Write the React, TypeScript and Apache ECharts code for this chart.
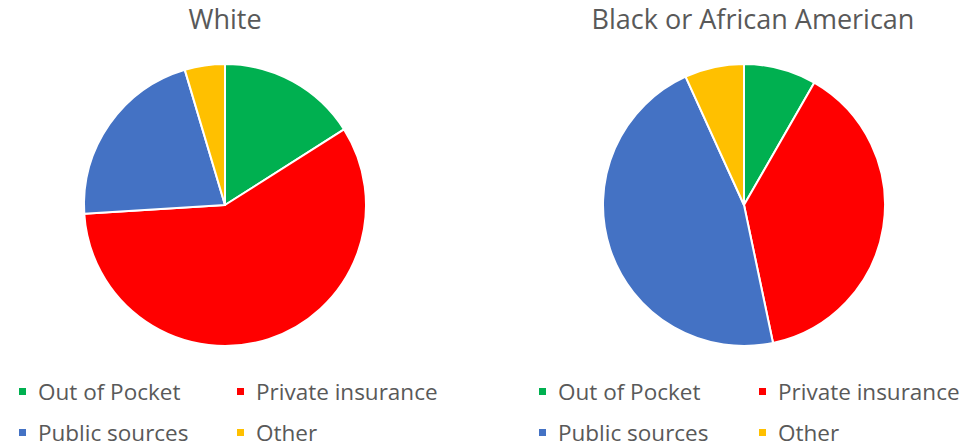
import React, { useEffect, useRef } from "react";
import * as echarts from "echarts";

const categories = ["Out of Pocket", "Private insurance", "Public sources", "Other"];
const whiteValues = [16, 58, 21.4, 4.6];
const blackValues = [8.3, 38.4, 46.5, 6.8];
const chartTitles = ["White", "Black or African American"];
const colors = ["#00B050", "#FF0000", "#4472C4", "#FFC000"];

const FONT = "'Open Sans', sans-serif";
const TXT = "#595959";

export default function App() {
  const ref = useRef<HTMLDivElement>(null);
  useEffect(() => {
    if (!ref.current) return;
    const chart = echarts.init(ref.current, null, { renderer: "svg" });
    const mkData = (vals: number[]) =>
      categories.map((c, i) => ({ name: c, value: vals[i], itemStyle: { color: colors[i] } }));
    const legendBase = {
      orient: "horizontal",
      icon: "rect",
      itemWidth: 9,
      itemHeight: 9,
      padding: 0,
      selectedMode: false,
      textStyle: { color: TXT, fontSize: 22.5, fontFamily: FONT, lineHeight: 22, padding: [0, 0, 0, 6] },
    };
    const rowTops = [380, 421];
    const colLefts = [17, 235, 537, 757];
    const legends: any[] = [];
    const layout = [
      { col: 0, row: 0, cat: 0 },
      { col: 1, row: 0, cat: 1 },
      { col: 0, row: 1, cat: 2 },
      { col: 1, row: 1, cat: 3 },
    ];
    [0, 2].forEach((offset) => {
      layout.forEach((l) => {
        legends.push({
          ...legendBase,
          left: colLefts[offset + l.col],
          top: rowTops[l.row],
          data: [categories[l.cat]],
        });
      });
    });
    chart.setOption({
      animation: false,
      color: colors,
      title: [
        {
          text: chartTitles[0],
          left: 225,
          top: 5,
          padding: 0,
          textAlign: "center",
          textStyle: { color: TXT, fontSize: 27, fontWeight: "normal", fontFamily: FONT },
        },
        {
          text: chartTitles[1],
          left: 753,
          top: 5,
          padding: 0,
          textAlign: "center",
          textStyle: { color: TXT, fontSize: 27, fontWeight: "normal", fontFamily: FONT },
        },
      ],
      legend: legends,
      series: [
        {
          type: "pie",
          name: chartTitles[0],
          center: [225, 205],
          radius: 141,
          startAngle: 90,
          clockwise: true,
          label: { show: false },
          labelLine: { show: false },
          emphasis: { disabled: true },
          itemStyle: { borderColor: "#ffffff", borderWidth: 2 },
          data: mkData(whiteValues),
        },
        {
          type: "pie",
          name: chartTitles[1],
          center: [744, 205],
          radius: 141,
          startAngle: 90,
          clockwise: true,
          label: { show: false },
          labelLine: { show: false },
          emphasis: { disabled: true },
          itemStyle: { borderColor: "#ffffff", borderWidth: 2 },
          data: mkData(blackValues),
        },
      ],
    });
    return () => chart.dispose();
  }, []);
  return (
    <div
      ref={ref}
      style={{ position: "fixed", left: 0, top: 0, width: 967, height: 448, background: "#ffffff" }}
    />
  );
}
